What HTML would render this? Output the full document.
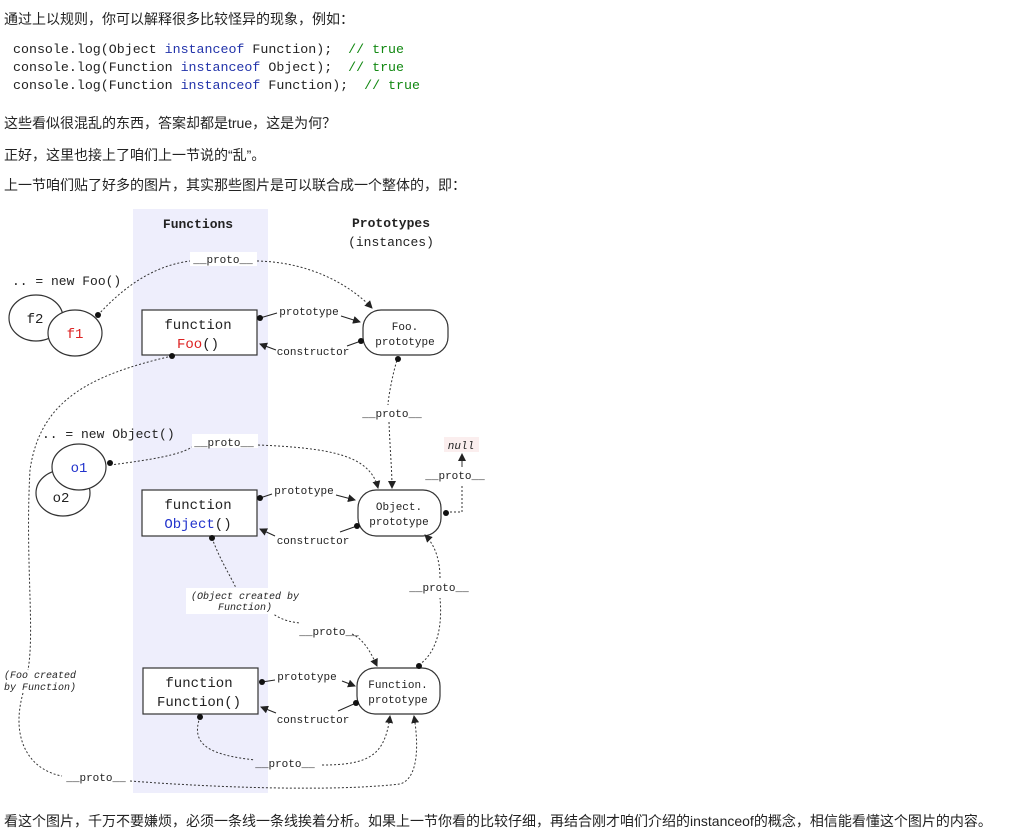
<!DOCTYPE html>
<html><head><meta charset="utf-8"><style>
body{margin:0;background:#fff;width:1014px;height:833px;overflow:hidden;position:relative;font-family:"Liberation Sans","Noto Sans CJK SC",sans-serif;font-size:14px;color:#222}
.t{position:absolute;left:4px;white-space:nowrap}
.c{position:absolute;left:13px;font-family:"Liberation Mono","Noto Sans CJK SC",monospace;font-size:13.3px;white-space:pre;color:#222}
.k{color:#2233aa}.g{color:#118811}
svg{position:absolute;left:0;top:0}
</style></head><body>
<div class="t" style="top:9px">通过上以规则，你可以解释很多比较怪异的现象，例如：</div>
<div class="c" style="top:42px">console.log(Object <span class="k">instanceof</span> Function);  <span class="g">// true</span></div>
<div class="c" style="top:60px">console.log(Function <span class="k">instanceof</span> Object);  <span class="g">// true</span></div>
<div class="c" style="top:78px">console.log(Function <span class="k">instanceof</span> Function);  <span class="g">// true</span></div>
<div class="t" style="top:113px">这些看似很混乱的东西，答案却都是true，这是为何？</div>
<div class="t" style="top:145px">正好，这里也接上了咱们上一节说的“乱”。</div>
<div class="t" style="top:175px">上一节咱们贴了好多的图片，其实那些图片是可以联合成一个整体的，即：</div>
<div class="t" style="top:811px">看这个图片，千万不要嫌烦，必须一条线一条线挨着分析。如果上一节你看的比较仔细，再结合刚才咱们介绍的instanceof的概念，相信能看懂这个图片的内容。</div>
<svg width="1014" height="833" font-family="Liberation Mono, DejaVu Sans Mono, monospace">
<defs><marker id="a" markerWidth="8" markerHeight="8" refX="7" refY="4" orient="auto" markerUnits="userSpaceOnUse"><path d="M0,0 L8,4 L0,8z" fill="#222"/></marker></defs>
<rect x="133" y="209" width="135" height="584" fill="#eeeefc"/>
<g font-size="13" fill="#222">
<text x="198" y="228" text-anchor="middle" font-weight="bold">Functions</text>
<text x="391" y="227" text-anchor="middle" font-weight="bold">Prototypes</text>
<text x="391" y="246" text-anchor="middle">(instances)</text>
<text x="12" y="285">.. = new Foo()</text>
<text x="42" y="438">.. = new Object()</text>
</g>
<g fill="#fff" stroke="#333" stroke-width="1.2">
<ellipse cx="36" cy="318" rx="27" ry="23"/>
<ellipse cx="75" cy="333" rx="27" ry="23"/>
<ellipse cx="63" cy="493" rx="27" ry="23"/>
<ellipse cx="79" cy="467" rx="27" ry="23"/>
<rect x="142" y="310" width="115" height="45"/>
<rect x="142" y="490" width="115" height="46"/>
<rect x="143" y="668" width="115" height="46"/>
<rect x="363" y="310" width="85" height="45" rx="18"/>
<rect x="358" y="490" width="83" height="46" rx="18"/>
<rect x="357" y="668" width="83" height="46" rx="18"/>
</g>
<g font-size="14" fill="#222" text-anchor="middle">
<text x="35" y="323">f2</text>
<text x="75" y="338" fill="#d22">f1</text>
<text x="79" y="472" fill="#23c">o1</text>
<text x="61" y="502">o2</text>
<text x="198" y="329">function</text>
<text x="198" y="348"><tspan fill="#d22">Foo</tspan>()</text>
<text x="198" y="509">function</text>
<text x="198" y="528"><tspan fill="#23c">Object</tspan>()</text>
<text x="199" y="687">function</text>
<text x="199" y="706">Function()</text>
</g>
<g font-size="11" fill="#222" text-anchor="middle">
<text x="405" y="330">Foo.</text><text x="405" y="345">prototype</text>
<text x="399" y="510">Object.</text><text x="399" y="525">prototype</text>
<text x="398" y="688">Function.</text><text x="398" y="703">prototype</text>
</g>
<rect x="444" y="437" width="35" height="15" fill="#fbeeee"/>
<g fill="none" stroke="#333" stroke-width="1" stroke-dasharray="2,2">
<path d="M98,315 C130,280 160,265 190,261"/>
<path d="M257,261 C310,262 350,285 372,308" marker-end="url(#a)"/>
<path d="M398,357 C392,375 388,400 388,405"/>
<path d="M389,422 C390,450 392,470 392,488" marker-end="url(#a)"/>
<path d="M172,356 C90,375 40,400 30,470 C25,560 35,630 28,670"/>
<path d="M23,693 C10,740 30,770 62,776"/>
<path d="M110,465 C150,460 180,455 192,447"/>
<path d="M258,445 C330,448 370,455 378,488" marker-end="url(#a)"/>
<path d="M446,512 L462,512 L462,484"/>
<path d="M462,467 L462,454" stroke-dasharray="none" marker-end="url(#a)"/>
<path d="M212,538 C220,560 230,575 236,588"/>
<path d="M268,610 C280,620 290,622 300,623"/>
<path d="M352,634 C365,640 372,655 377,666" marker-end="url(#a)"/>
<path d="M419,665 C440,650 442,620 440,598"/>
<path d="M440,578 C440,560 435,545 425,535" marker-end="url(#a)"/>
<path d="M200,717 C190,745 210,755 255,760"/>
<path d="M322,765 C370,765 385,755 390,716" marker-end="url(#a)"/>
<path d="M130,781 C250,790 350,790 400,784 C420,778 418,740 414,716" marker-end="url(#a)"/>
</g>
<g stroke="#222" stroke-width="1" fill="none">
<path d="M260,318 L277,313"/><path d="M341,316 L360,322" marker-end="url(#a)"/>
<path d="M361,341 L347,346"/><path d="M276,350 L260,344" marker-end="url(#a)"/>
<path d="M260,498 L272,494"/><path d="M336,495 L355,500" marker-end="url(#a)"/>
<path d="M357,526 L340,532"/><path d="M275,536 L260,529" marker-end="url(#a)"/>
<path d="M262,682 L275,680"/><path d="M342,681 L355,686" marker-end="url(#a)"/>
<path d="M356,703 L338,711"/><path d="M276,713 L261,707" marker-end="url(#a)"/>
</g>
<g fill="#111">
<circle cx="98" cy="315" r="3"/><circle cx="172" cy="356" r="3"/><circle cx="398" cy="359" r="3"/>
<circle cx="361" cy="341" r="3"/><circle cx="260" cy="318" r="3"/>
<circle cx="110" cy="463" r="3"/><circle cx="260" cy="498" r="3"/><circle cx="357" cy="526" r="3"/>
<circle cx="446" cy="513" r="3"/><circle cx="212" cy="538" r="3"/>
<circle cx="262" cy="682" r="3"/><circle cx="356" cy="703" r="3"/><circle cx="419" cy="666" r="3"/>
<circle cx="200" cy="717" r="3"/>
</g>
<g font-size="11" fill="#222" text-anchor="middle">
<rect x="190" y="252" width="67" height="14" fill="#fff"/>
<text x="223" y="263">__proto__</text>
<text x="309" y="315">prototype</text>
<text x="313" y="355">constructor</text>
<text x="392" y="417">__proto__</text>
<rect x="192" y="434" width="66" height="14" fill="#fff"/>
<text x="224" y="446">__proto__</text>
<text x="455" y="479">__proto__</text>
<text x="461" y="449" font-style="italic">null</text>
<text x="304" y="494">prototype</text>
<text x="313" y="544">constructor</text>
<text x="439" y="591">__proto__</text>
<rect x="186" y="588" width="118" height="26" fill="#fff"/>
<text x="245" y="599" font-size="10" font-style="italic">(Object created by</text>
<text x="245" y="610" font-size="10" font-style="italic">Function)</text>
<text x="329" y="635">__proto__</text>
<text x="40" y="678" font-size="10" font-style="italic">(Foo created</text>
<text x="40" y="690" font-size="10" font-style="italic">by Function)</text>
<text x="307" y="680">prototype</text>
<text x="313" y="723">constructor</text>
<text x="285" y="767">__proto__</text>
<text x="96" y="781">__proto__</text>
</g>
</svg>
</body></html>
